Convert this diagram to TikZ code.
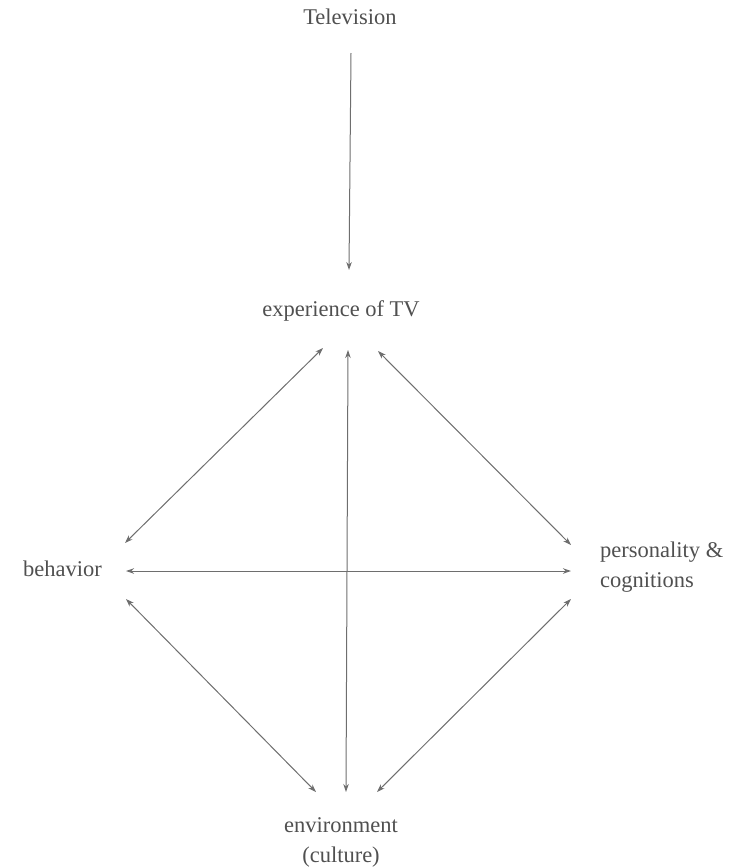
\documentclass[tikz,border=0pt]{standalone}
\usepackage{fontspec}
\setmainfont{Liberation Serif}
\usetikzlibrary{arrows.meta}
\definecolor{txt}{RGB}{80,80,80}
\definecolor{ln}{RGB}{110,110,110}
\begin{document}
\begin{tikzpicture}[x=1pt,y=-1pt,
  lbl/.style={text=txt,font=\fontsize{22.5}{30}\selectfont,inner sep=0pt,align=center},
  one/.style={draw=ln,line width=1pt,-{Stealth[length=8pt,width=5.5pt]}},
  two/.style={draw=ln,line width=1pt,{Stealth[length=8pt,width=5.5pt]}-{Stealth[length=8pt,width=5.5pt]}}]
\useasboundingbox (0,0) rectangle (747,868);
% labels
\node[lbl] (tv) at (350,17) {Television};
\node[lbl] (exp) at (341,311) {experience of TV};
\node[lbl,anchor=west] (beh) at (23,569) {behavior};
\node[lbl,anchor=west,align=left] (pers) at (600,567) {personality \&\\cognitions};
\node[lbl] (env) at (341,842) {environment\\(culture)};
% arrow end points
\coordinate (tvS) at (351,53);
\coordinate (tvE) at (349,270);
\coordinate (eL) at (323,348);
\coordinate (eC) at (348,350);
\coordinate (eR) at (378,351);
\coordinate (bU) at (125,543);
\coordinate (bC) at (126,571);
\coordinate (bD) at (126,599);
\coordinate (pU) at (571,545);
\coordinate (pC) at (571,571);
\coordinate (pD) at (571,599);
\coordinate (nL) at (316,792);
\coordinate (nC) at (346,792);
\coordinate (nR) at (377,792);
% connectors
\draw[one] (tvS) -- (tvE);
\draw[two] (bU) -- (eL);
\draw[two] (nC) -- (eC);
\draw[two] (pU) -- (eR);
\draw[two] (bC) -- (pC);
\draw[two] (bD) -- (nL);
\draw[two] (pD) -- (nR);
\end{tikzpicture}
\end{document}
